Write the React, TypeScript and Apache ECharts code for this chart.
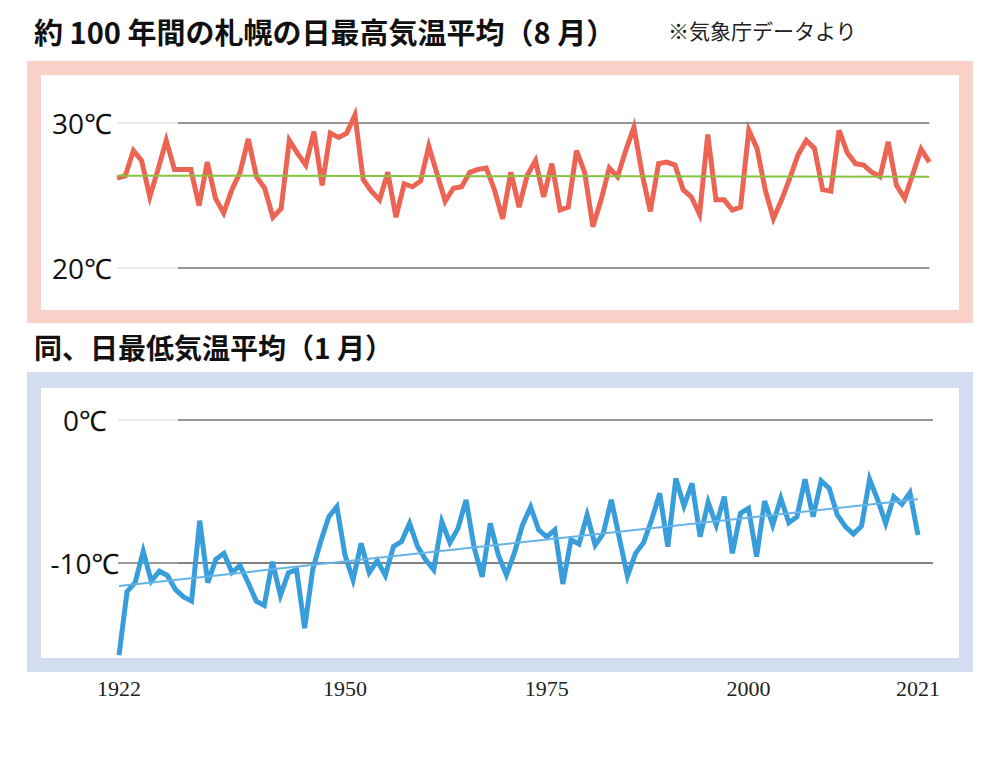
import React, { useEffect, useRef } from "react";
import * as echarts from "echarts";

const firstYear = 1922;
const years: string[] = Array.from({ length: 100 }, (_, i) => String(firstYear + i));
const labelYears = ["1922", "1950", "1975", "2000", "2021"];

// August mean daily max temperature (°C), Sapporo
const augHigh = [
  26.2, 26.35, 28.1, 27.4, 24.9, 26.8, 28.8, 26.8, 26.8, 26.8,
  24.3, 27.3, 24.8, 23.8, 25.4, 26.6, 28.9, 26.3, 25.5, 23.5,
  24.1, 28.8, 27.9, 27.1, 29.4, 25.7, 29.3, 29.0, 29.3, 30.55,
  26.1, 25.3, 24.7, 26.6, 23.5, 25.8, 25.6, 26.0, 28.4, 26.5,
  24.6, 25.5, 25.6, 26.6, 26.8, 26.9, 25.4, 23.4, 26.6, 24.2,
  26.4, 27.4, 24.9, 27.2, 24.0, 24.2, 28.1, 26.6, 22.85, 24.7,
  26.9, 26.3, 28.1, 29.7, 26.5, 23.9, 27.2, 27.3, 27.1, 25.4,
  24.9, 23.7, 29.2, 24.7, 24.7, 24.0, 24.2, 29.5, 28.25, 25.4,
  23.4, 24.7, 26.2, 27.8, 28.8, 28.25, 25.4, 25.3, 29.5, 27.95,
  27.2, 27.1, 26.6, 26.3, 28.7, 25.7, 24.8, 26.5, 28.2, 27.3,
];

// January mean daily min temperature (°C), Sapporo
const janLow = [
  -16.5, -12.04, -11.4, -9.2, -11.3, -10.6, -10.9, -11.9, -12.4, -12.7,
  -7.06, -11.4, -9.77, -9.35, -10.7, -10.2, -11.4, -12.7, -13.0, -9.94,
  -12.3, -10.7, -10.5, -14.6, -10.5, -8.5, -6.78, -6.08, -9.47, -11.2,
  -8.65, -10.7, -9.86, -10.9, -8.88, -8.53, -7.25, -8.88, -9.8, -10.5,
  -7.13, -8.6, -7.6, -5.6, -8.93, -11.0, -7.25, -9.47, -10.87, -9.3,
  -7.36, -6.1, -7.7, -8.2, -7.7, -11.5, -8.4, -8.7, -6.66, -8.77,
  -7.95, -5.6, -8.3, -10.94, -9.35, -8.6, -7.0, -5.14, -8.88, -4.09,
  -6.03, -4.44, -8.18, -5.76, -7.36, -5.38, -9.35, -6.54, -6.19, -9.58,
  -5.68, -7.36, -5.49, -7.2, -6.78, -4.16, -6.78, -4.26, -4.79, -6.66,
  -7.48, -8.0, -7.43, -4.16, -5.6, -7.25, -5.38, -5.9, -5.1, -8.06,
];

// trend line end points (first year, last year)
const augTrend = [26.37, 26.3];
const janTrend = [-11.64, -5.56];

const title1 = "約 100 年間の札幌の日最高気温平均（8 月）";
const title2 = "同、日最低気温平均（1 月）";
const sourceNote = "※気象庁データより";

const trendData = (ends: number[]) =>
  years.map((_, i) => (i === 0 ? ends[0] : i === years.length - 1 ? ends[1] : null));

const LIGHT = "#e2e2e2";
const DARK = "#7a7a7a";
const LABEL_FONT = "'Open Sans', 'Noto Sans', sans-serif";
const CJK_FONT = "'Noto Sans CJK JP', sans-serif";

export default function App() {
  const ref = useRef<HTMLDivElement>(null);
  useEffect(() => {
    if (!ref.current) return;
    const chart = echarts.init(ref.current, null, { renderer: "svg" });
    const hiddenX = { type: "value", min: 0, max: 1, show: false };
    const helperY = (gridIndex: number, min: number, max: number, color: any) => ({
      type: "value",
      gridIndex,
      min,
      max,
      interval: max - min,
      axisLine: { show: false },
      axisTick: { show: false },
      axisLabel: { show: false },
      splitLine: { show: true, lineStyle: { color, width: 1.5 } },
    });
    chart.setOption({
      animation: false,
      backgroundColor: "#ffffff",
      grid: [
        { left: 117, right: 70.7, top: 123, height: 145 },
        { left: 119, right: 82, top: 420, height: 256.7 },
        { left: 178, right: 70.7, top: 123, height: 145 },
        { left: 118, right: 67, top: 420, height: 142.6 },
        { left: 178, right: 67, top: 420, height: 142.6 },
      ],
      xAxis: [
        { type: "category", gridIndex: 0, data: years, boundaryGap: false, show: false },
        {
          type: "category",
          gridIndex: 1,
          data: years,
          boundaryGap: false,
          axisLine: { show: false },
          axisTick: { show: false },
          axisLabel: {
            interval: (_i: number, v: string) => labelYears.includes(v),
            fontSize: 22,
            margin: 1,
            color: "#222",
            fontFamily: "'Liberation Serif', serif",
          },
        },
        { ...hiddenX, gridIndex: 2 },
        { ...hiddenX, gridIndex: 3 },
        { ...hiddenX, gridIndex: 4 },
      ],
      yAxis: [
        {
          type: "value",
          gridIndex: 0,
          min: 20,
          max: 30,
          interval: 10,
          axisLine: { show: false },
          axisTick: { show: false },
          axisLabel: {
            formatter: "{value}℃",
            fontSize: 28,
            margin: 5,
            color: "#111",
            fontFamily: LABEL_FONT,
          },
          splitLine: { show: true, lineStyle: { color: LIGHT, width: 1.5 } },
        },
        {
          type: "value",
          gridIndex: 1,
          min: -18,
          max: 0,
          interval: 2,
          axisLine: { show: false },
          axisTick: { show: false },
          axisLabel: {
            formatter: (v: number) => (v === 0 ? "0℃" : v === -10 ? "-10℃" : ""),
            fontSize: 28,
            margin: 34,
            align: "center",
            color: "#111",
            fontFamily: LABEL_FONT,
          },
          splitLine: { show: false },
        },
        helperY(2, 20, 30, DARK),
        helperY(3, -10, 0, [DARK, LIGHT]),
        helperY(4, -10, 0, DARK),
      ],
      series: [
        {
          type: "line",
          xAxisIndex: 0,
          yAxisIndex: 0,
          data: augHigh,
          symbol: "none",
          clip: false,
          z: 3,
          lineStyle: { color: "#ec6453", width: 5, join: "miter" },
        },
        {
          type: "line",
          xAxisIndex: 0,
          yAxisIndex: 0,
          data: trendData(augTrend),
          connectNulls: true,
          symbol: "none",
          z: 4,
          lineStyle: { color: "#86c440", width: 2 },
        },
        {
          type: "line",
          xAxisIndex: 1,
          yAxisIndex: 1,
          data: janLow,
          symbol: "none",
          clip: false,
          z: 3,
          lineStyle: { color: "#379ddb", width: 5, join: "miter" },
        },
        {
          type: "line",
          xAxisIndex: 1,
          yAxisIndex: 1,
          data: trendData(janTrend),
          connectNulls: true,
          symbol: "none",
          z: 4,
          lineStyle: { color: "#66b4e6", width: 2 },
        },
      ],
      graphic: [
        { type: "rect", z: -10, shape: { x: 27, y: 61, width: 946, height: 262 }, style: { fill: "#f9d1c9" } },
        { type: "rect", z: -9, shape: { x: 41, y: 75, width: 918, height: 235 }, style: { fill: "#ffffff" } },
        { type: "rect", z: -10, shape: { x: 27, y: 372, width: 946, height: 300 }, style: { fill: "#d2ddef" } },
        { type: "rect", z: -9, shape: { x: 41, y: 388, width: 918, height: 270 }, style: { fill: "#ffffff" } },
        {
          type: "text",
          x: 34,
          y: 16,
          style: { text: title1, fontSize: 29, fontWeight: "bold", fontFamily: CJK_FONT, fill: "#111", verticalAlign: "top" },
        },
        {
          type: "text",
          x: 668,
          y: 19,
          style: { text: sourceNote, fontSize: 21, fontFamily: CJK_FONT, fill: "#222", verticalAlign: "top" },
        },
        {
          type: "text",
          x: 34,
          y: 333,
          style: { text: title2, fontSize: 28, fontWeight: "bold", fontFamily: CJK_FONT, fill: "#111", verticalAlign: "top" },
        },
      ],
    });
    return () => chart.dispose();
  }, []);
  return (
    <div
      ref={ref}
      style={{ position: "fixed", left: 0, top: 0, width: 1000, height: 757, background: "#fff" }}
    />
  );
}
